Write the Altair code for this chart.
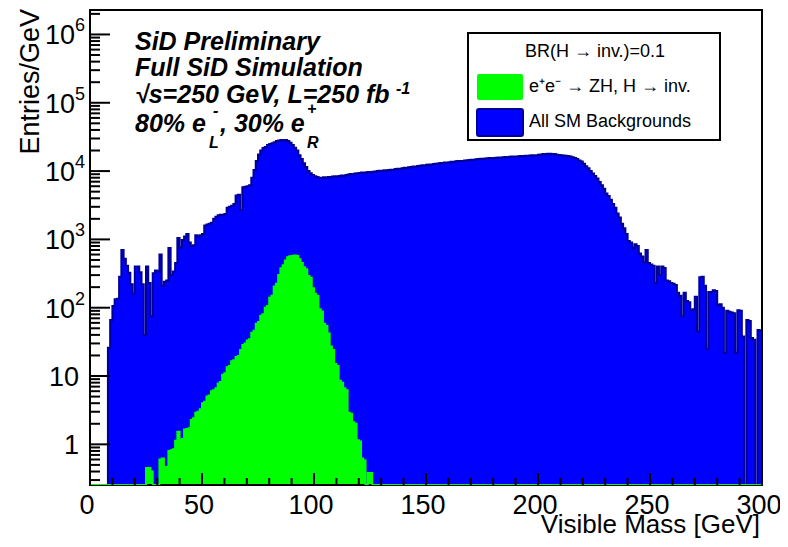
import altair as alt
import pandas as pd

# ---------------- data (entries per 1 GeV bin) ----------------
BG_START = 8  # first non-empty background bin [GeV]
bg_values = [
    26, 66, 106, 133, 135, 283, 700, 520, 410, 325,
    220, 160, 400, 400, 330, 220, 40, 400, 230, 75,
    320, 350, 340, 600, 210, 240, 250, 750, 300, 340,
    450, 1050, 760, 980, 1100, 1200, 900, 800, 820, 1150,
    1100, 1150, 1200, 1600, 1650, 1700, 1750, 2000, 2150, 2250,
    2290, 2300, 2350, 2900, 3000, 3100, 3300, 4400, 4500, 2700,
    5800, 5900, 6000, 6200, 8000, 10400, 14000, 17500, 20000, 21800,
    22500, 24000, 25000, 25500, 26500, 27500, 28000, 28500, 28000, 28500,
    27500, 26000, 24000, 22000, 20000, 17000, 15000, 13000, 11500, 10000,
    9300, 8800, 8400, 8200, 8000, 7900, 8100, 8000, 8200, 8100,
    8300, 8400, 8300, 8500, 8600, 8500, 8800, 8900, 9100, 9000,
    9200, 9300, 9400, 9500, 9400, 9600, 9700, 9600, 9800, 9900,
    10000, 10100, 10000, 10300, 10200, 10400, 10500, 10400, 10700, 10800,
    10700, 11000, 11200, 11100, 11400, 11500, 11700, 11600, 11900, 12000,
    12200, 12100, 12400, 12500, 12400, 12700, 12800, 12900, 13100, 13000,
    13300, 13400, 13500, 13700, 13600, 13900, 14000, 14100, 14000, 14300,
    14400, 14500, 14700, 14600, 14900, 15000, 15100, 15000, 15300, 15400,
    15500, 15400, 15600, 15700, 15800, 15700, 16000, 16100, 15900, 16200,
    16300, 16400, 16300, 16500, 16600, 16500, 16800, 16700, 16900, 17000,
    16800, 17100, 17300, 17500, 17800, 17600, 17900, 18000, 17700, 17800,
    17400, 17200, 17000, 16900, 16700, 16600, 16300, 16000, 15500, 15000,
    14300, 13800, 12800, 11800, 11000, 10000, 9200, 8500, 7800, 6900,
    6200, 5500, 4700, 4300, 3800, 3300, 2900, 2400, 2100, 1700,
    1450, 1200, 950, 900, 750, 850, 800, 620, 560, 460,
    700, 450, 430, 410, 230, 400, 300, 400, 380, 250,
    245, 230, 225, 215, 165, 150, 75, 165, 125, 120,
    92, 95, 145, 45, 280, 283, 210, 25, 170, 170,
    180, 175, 110, 112, 100, 22, 90, 87, 85, 83,
    22, 92, 90, 38, 0, 66, 64, 36, 34, 0, 47, 46,
]

SIG_START = 25  # first signal bin [GeV]
sig_values = [
    0.45, 0.45, 0.40, 0, 0, 0, 0.60, 0.62, 0.46, 0.47,
    0.80, 0.82, 0.85, 1.13, 1.53, 1.15, 1.2, 1.65, 1.68, 1.72,
    2.27, 2.4, 2.9, 3.0, 3.25, 4.0, 4.2, 5.0, 5.2, 6.0,
    6.2, 6.6, 7.8, 8.2, 10.4, 11.0, 13.4, 14.0, 16.5, 17.0,
    19.0, 19.6, 24, 28.5, 30, 33, 34.5, 43, 46, 58,
    62, 76, 80, 100, 106, 140, 150, 205, 225, 300,
    377, 420, 490, 550, 565, 570, 580, 570, 510, 450,
    390, 365, 290, 275, 192, 160, 148, 95, 88, 58,
    54, 42, 27, 24, 15, 14, 8.5, 8.0, 6.6, 6.2,
    2.9, 2.8, 2.1, 2.0, 1.15, 1.1, 0.62, 0.58, 0, 0.38,
    0.38,
]

N_BINS = 300
x_major = [0, 50, 100, 150, 200, 250, 300]
x_labels = ["0", "50", "100", "150", "200", "250", "300"]
x_minor = [10, 20, 30, 40, 60, 70, 80, 90, 110, 120, 130, 140, 160, 170, 180, 190,
           210, 220, 230, 240, 260, 270, 280, 290]
y_small = [1, 10]
y_small_labels = ["1", "10"]
y_big = [100, 1000, 10000, 100000, 1000000]
y_big_exp = ["2", "3", "4", "5", "6"]

# ---------------- layout / style ----------------
W, H = 672, 475
YMIN, YMAX = 0.254, 2.28e6
FONT = "Liberation Sans"
BLUE, DARK, GREEN = "#0000ff", "#000099", "#00ff00"

y_major = y_small + y_big
y_minor = [m * 10 ** k for k in range(-1, 7) for m in range(2, 10)
           if YMIN <= m * 10 ** k <= YMAX]

xscale = alt.Scale(domain=[0, N_BINS], nice=False, zero=False)
yscale = alt.Scale(type="log", domain=[YMIN, YMAX], nice=False)


def hist_df(start, values):
    full = [0.0] * N_BINS
    for i, v in enumerate(values):
        full[start + i] = v
    vals = full + [full[-1]]
    vals = [v if v > YMIN else YMIN for v in vals]
    return pd.DataFrame({"x": list(range(N_BINS + 1)), "v": vals, "base": YMIN})


bg_df = hist_df(BG_START, bg_values)
sig_df = hist_df(SIG_START, sig_values)
one = pd.DataFrame({"k": [0]})

X = lambda f="x:Q": alt.X(f, scale=xscale, axis=None)
Y = lambda f="v:Q": alt.Y(f, scale=yscale, axis=None)


def area(df, color):
    return alt.Chart(df).mark_area(interpolate="step-after", color=color, clip=True).encode(
        x=X(), y=Y(), y2="base:Q")


def outline(df, color):
    return alt.Chart(df).mark_line(interpolate="step-after", color=color, strokeWidth=2,
                                   clip=True).encode(x=X(), y=Y())


def txt(s, x, y, size=18, align="left", baseline="middle", weight="normal",
        style="normal", angle=0):
    return alt.Chart(one).mark_text(text=s, align=align, baseline=baseline, fontSize=size,
                                    font=FONT, fontWeight=weight, fontStyle=style,
                                    angle=angle, color="black").encode(
        x=alt.value(x), y=alt.value(y))


def box(x1, x2, y1, y2, **kw):
    return alt.Chart(one).mark_rect(**kw).encode(
        x=alt.value(x1), x2=alt.value(x2), y=alt.value(y1), y2=alt.value(y2))


frame = box(0, W, 0, H, fillOpacity=0, stroke="black", strokeWidth=2)

xt_major = alt.Chart(pd.DataFrame({"t": x_major})).mark_rule(color="black", strokeWidth=2).encode(
    x=X("t:Q"), y=alt.value(H - 12), y2=alt.value(H))
xt_minor = alt.Chart(pd.DataFrame({"t": x_minor})).mark_rule(color="black", strokeWidth=2).encode(
    x=X("t:Q"), y=alt.value(H - 7), y2=alt.value(H))
yt_major = alt.Chart(pd.DataFrame({"t": y_major})).mark_rule(color="black", strokeWidth=2).encode(
    y=Y("t:Q"), x=alt.value(0), x2=alt.value(20))
yt_minor = alt.Chart(pd.DataFrame({"t": y_minor})).mark_rule(color="black", strokeWidth=2).encode(
    y=Y("t:Q"), x=alt.value(0), x2=alt.value(10))

LAB = 27
xlab = alt.Chart(pd.DataFrame({"t": x_major, "s": x_labels})).mark_text(
    font=FONT, fontSize=LAB, align="center", baseline="middle", dx=-3).encode(
    x=X("t:Q"), y=alt.value(H + 21), text="s:N")
ylab_small = alt.Chart(pd.DataFrame({"t": y_small, "s": y_small_labels})).mark_text(
    font=FONT, fontSize=LAB, align="right", baseline="middle", dy=2).encode(
    y=Y("t:Q"), x=alt.value(-11), text="s:N")
ylab_big = alt.Chart(pd.DataFrame({"t": y_big, "s": ["10"] * len(y_big)})).mark_text(
    font=FONT, fontSize=LAB, align="right", baseline="middle", dy=2).encode(
    y=Y("t:Q"), x=alt.value(-15), text="s:N")
ylab_exp = alt.Chart(pd.DataFrame({"t": y_big, "s": y_big_exp})).mark_text(
    font=FONT, fontSize=18, align="left", baseline="middle", dy=-8).encode(
    y=Y("t:Q"), x=alt.value(-15), text="s:N")

xtitle = txt("Visible Mass [GeV]", W - 2, H + 48, size=26, align="right",
             baseline="alphabetic")
ytitle = txt("Entries/GeV", -59, -1, size=27, align="right", angle=270)

bi = dict(size=25, weight="bold", style="italic", baseline="alphabetic")
sm = dict(size=16, weight="bold", style="italic", baseline="alphabetic")
ann = [
    txt("SiD Preliminary", 45, 40, **bi),
    txt("Full SiD Simulation", 45, 66, **bi),
    txt("\u221As=250 GeV, L=250 fb", 45, 93, **bi),
    txt("-1", 306, 84, **sm),
    txt("80% e", 45, 122, **bi),
    txt("-", 123, 106, **sm),
    txt("L", 119, 138, **sm),
    txt(", 30% e", 130, 122, **bi),
    txt("+", 217, 104, **sm),
    txt("R", 217, 138, **sm),
]

legend = [
    box(378, 630, 23, 130, fill="white", stroke="black", strokeWidth=2),
    txt("BR(H \u2192 inv.)=0.1", 505, 42, align="center"),
    box(387, 433, 64, 90, fill=GREEN, cornerRadius=2),
    txt("e\u207Ae\u207B \u2192 ZH, H \u2192 inv.", 439, 77),
    box(387, 433, 99, 126, fill=BLUE, stroke=DARK, strokeWidth=2, cornerRadius=2),
    txt("All SM Backgrounds", 439, 112),
]

chart = alt.layer(
    area(bg_df, BLUE), outline(bg_df, DARK), area(sig_df, GREEN), frame, outline(sig_df, GREEN),
    xt_major, xt_minor, yt_major, yt_minor, xlab, ylab_small, ylab_big, ylab_exp,
    xtitle, ytitle, *ann, *legend,
).properties(
    width=W, height=H,
    autosize=alt.AutoSizeParams(type="none"),
    padding={"left": 82, "top": 2, "right": 18, "bottom": 54},
).configure_view(stroke=None).configure(background="white")

chart.save("out.html", embed_options={"renderer": "svg", "actions": False})
